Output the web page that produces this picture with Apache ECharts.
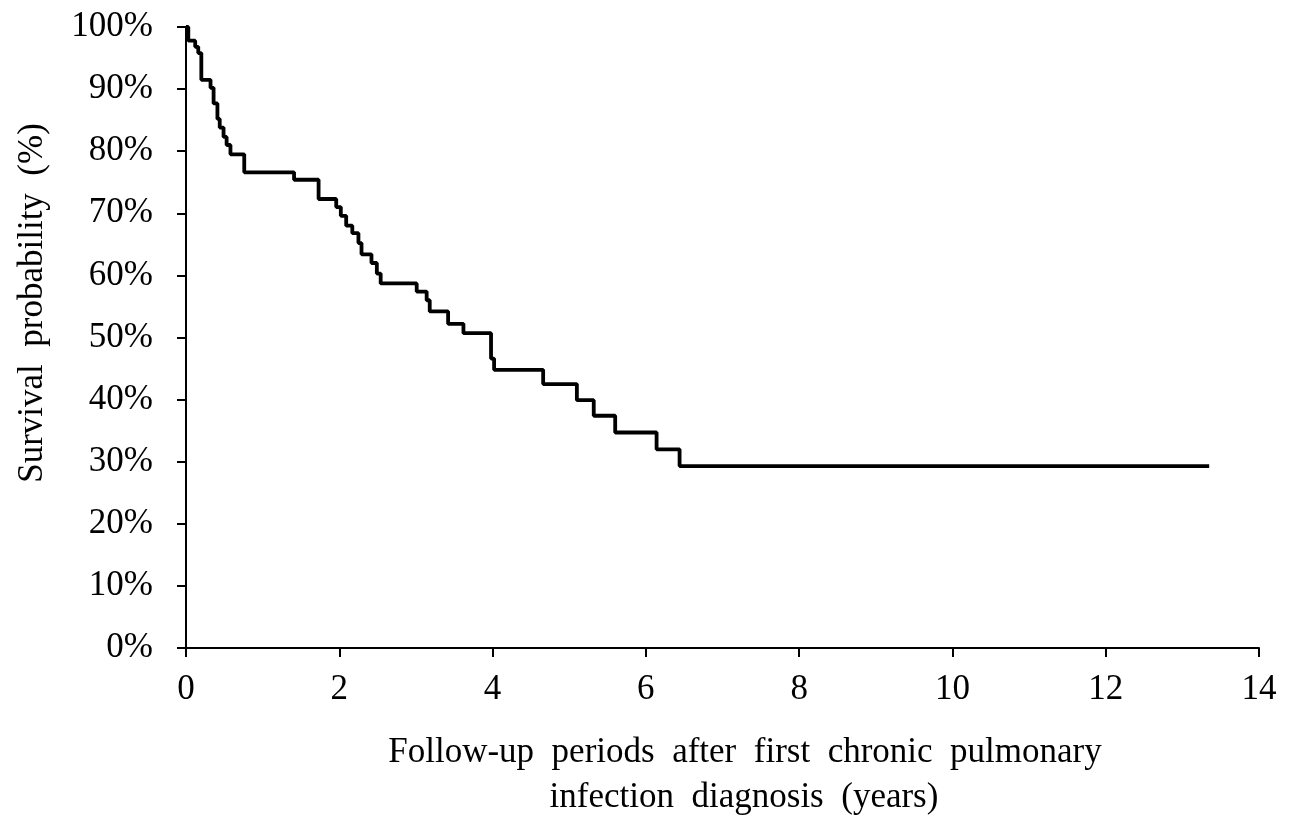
<!DOCTYPE html>
<html><head><meta charset="utf-8">
<script src="https://cdn.jsdelivr.net/npm/echarts@6/dist/echarts.min.js"></script>
<style>html,body{margin:0;padding:0;background:#fff}#c{width:1289px;height:818px}</style>
</head><body><div id="c"></div>
<script>
// Kaplan-Meier step points: time (years) at which survival drops to value (%)
var times = [0, 0.03, 0.12, 0.16, 0.20, 0.32, 0.36, 0.41, 0.44, 0.49, 0.53, 0.58, 0.76, 1.41, 1.73, 1.96, 2.02, 2.09, 2.17, 2.25, 2.29, 2.42, 2.49, 2.54, 3.01, 3.14, 3.18, 3.42, 3.62, 3.98, 4.02, 4.66, 5.10, 5.32, 5.60, 6.14, 6.44, 13.35];
var survival = [100, 97.8, 96.8, 95.8, 91.5, 90.2, 87.7, 85.2, 83.8, 82.3, 81.0, 79.5, 76.6, 75.4, 72.3, 71.0, 69.6, 68.0, 66.8, 65.2, 63.4, 62.0, 60.3, 58.7, 57.4, 56.0, 54.2, 52.2, 50.7, 46.6, 44.8, 42.5, 39.9, 37.4, 34.7, 32.0, 29.3, 29.3];
var xTicks = [0, 2, 4, 6, 8, 10, 12, 14];
var yTicks = [0, 10, 20, 30, 40, 50, 60, 70, 80, 90, 100];
var xTitle = ['Follow-up  periods  after  first  chronic  pulmonary', 'infection  diagnosis  (years)'];
var yTitle = 'Survival  probability  (%)';

var font = '"Liberation Serif", "Times New Roman", serif';
var data = times.map(function (t, i) { return [t, survival[i]]; });
var chart = echarts.init(document.getElementById('c'), null, {renderer: 'canvas'});
chart.setOption({
  backgroundColor: '#fff',
  animation: false,
  grid: {left: 186, right: 30, top: 27, bottom: 170, containLabel: false},
  xAxis: {
    type: 'value', min: 0, max: 14, interval: 2,
    axisLine: {show: true, lineStyle: {color: '#000', width: 2}},
    axisTick: {show: true, inside: false, length: 9, lineStyle: {color: '#000', width: 2}},
    axisLabel: {color: '#000', fontFamily: font, fontSize: 35, margin: 24,
      formatter: function (v) { return xTicks.indexOf(v) >= 0 ? String(v) : ''; }},
    splitLine: {show: false}
  },
  yAxis: {
    type: 'value', min: 0, max: 100, interval: 10,
    axisLine: {show: true, lineStyle: {color: '#000', width: 2}},
    axisTick: {show: true, inside: false, length: 9, lineStyle: {color: '#000', width: 2}},
    axisLabel: {color: '#000', fontFamily: font, fontSize: 35, margin: 33,
      formatter: function (v) { return yTicks.indexOf(v) >= 0 ? v + '%' : ''; }},
    splitLine: {show: false}
  },
  series: [{
    type: 'line', step: 'end', data: data, showSymbol: false, symbol: 'none',
    lineStyle: {color: '#000', width: 3.8}, silent: true
  }],
  graphic: [
    {type: 'text', x: 745, y: 753, style: {text: xTitle[0], font: '35px ' + font, fill: '#000', align: 'center', verticalAlign: 'middle'}},
    {type: 'text', x: 744, y: 798, style: {text: xTitle[1], font: '35px ' + font, fill: '#000', align: 'center', verticalAlign: 'middle'}},
    {type: 'text', x: 33, y: 303, rotation: Math.PI / 2,
      style: {text: yTitle, font: '35px ' + font, fill: '#000', align: 'center', verticalAlign: 'middle'}}
  ]
});
</script></body></html>
